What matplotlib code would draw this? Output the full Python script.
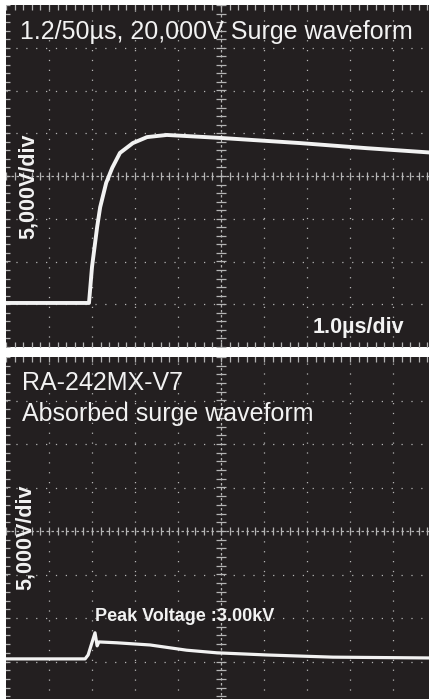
import numpy as np
import matplotlib
matplotlib.use('Agg')
import matplotlib.pyplot as plt

# top trace: 1.2/50us surge, in divisions (x: 1.0us/div, y: 5,000V/div)
surge_t = [0, 1.93, 2.00, 2.12, 2.19, 2.33, 2.47, 2.65, 2.95, 3.28, 3.74, 5.0, 6.84, 8.40, 10.0]
surge_v = [-2.97, -2.97, -2.13, -1.19, -0.73, -0.16, 0.19, 0.54, 0.77, 0.91, 0.96, 0.89, 0.77, 0.65, 0.54]

# bottom trace: absorbed surge
absorbed_t = [0, 1.84, 1.91, 2.07, 2.12, 2.16, 2.58, 3.35, 4.2, 4.9, 6.07, 7.6, 10.0]
absorbed_v = [-2.94, -2.94, -2.85, -2.34, -2.64, -2.55, -2.57, -2.62, -2.74, -2.80, -2.85, -2.90, -2.92]

BG = '#231f20'
GRID = '#b4b4b4'
FG = '#f2f2f2'
FONT = 'Liberation Sans'


def scope_axes(fig, rect):
	ax = fig.add_axes(rect)
	ax.set_facecolor(BG)
	ax.set_xlim(0, 10)
	ax.set_ylim(-4, 4)
	for s in ax.spines.values():
		s.set_visible(False)
	ax.set_xticks([])
	ax.set_yticks([])

	# dotted graticule
	for x in range(1, 10):
		if x != 5:
			ax.axvline(x, color=GRID, lw=0.9, ls=(0, (1.0, 6.9)), zorder=1)
	for y in range(-3, 4):
		if y != 0:
			ax.axhline(y, color=GRID, lw=0.9, ls=(0, (1.0, 6.9)), zorder=1)

	# center axes with minor ticks
	ax.axvline(5, color=GRID, lw=0.9, ls=(0, (2.0, 2.0)), zorder=1)
	ax.axhline(0, color=GRID, lw=0.9, ls=(0, (2.0, 2.0)), zorder=1)
	fine_x = np.arange(0, 10.01, 0.2)
	fine_y = np.arange(-4, 4.01, 0.2)
	ax.plot(fine_x, np.zeros_like(fine_x), ls='none', marker='|', ms=6, mew=0.9, color=GRID, zorder=1)
	ax.plot(np.full_like(fine_y, 5), fine_y, ls='none', marker='_', ms=7, mew=0.9, color=GRID, zorder=1)

	# edge ticks
	ax.plot(fine_x, np.full_like(fine_x, 4), ls='none', marker='|', ms=7, mew=0.9, color=GRID, clip_on=True, zorder=1)
	ax.plot(fine_x, np.full_like(fine_x, -4), ls='none', marker='|', ms=7, mew=0.9, color=GRID, clip_on=True, zorder=1)
	ax.plot(np.zeros_like(fine_y), fine_y, ls='none', marker='_', ms=6, mew=0.9, color=GRID, clip_on=True, zorder=1)
	return ax


def main():
	W, H = 429, 699
	fig = plt.figure(figsize=(W / 100, H / 100), dpi=100)
	fig.patch.set_facecolor('white')

	# top panel: x 6..436 px, y 5..347 px
	top = scope_axes(fig, [6 / W, (H - 347) / H, 430 / W, 342 / H])
	top.plot(surge_t, surge_v, color=FG, lw=2.8, zorder=3, solid_joinstyle='round')
	top.text(0.33, 3.20, '1.2/50µs, 20,000V Surge waveform', color=FG, fontsize=18,
		family=FONT, ha='left', va='baseline', zorder=4)
	top.text(0.51, -0.23, '5,000V/div', color=FG, fontsize=15.5, fontweight='bold',
		family=FONT, rotation=90, ha='center', va='center', zorder=4)
	top.text(7.12, -3.67, '1.0µs/div', color=FG, fontsize=15.5, fontweight='bold',
		family=FONT, ha='left', va='baseline', zorder=4)

	# bottom panel: x 6..436 px, y 357..705 px
	bot = scope_axes(fig, [6 / W, (H - 705) / H, 430 / W, 348 / H])
	bot.plot(absorbed_t, absorbed_v, color=FG, lw=2.3, zorder=3, solid_joinstyle='round')
	bot.text(0.37, 3.24, 'RA-242MX-V7', color=FG, fontsize=18,
		family=FONT, ha='left', va='baseline', zorder=4)
	bot.text(0.37, 2.53, 'Absorbed surge waveform', color=FG, fontsize=18,
		family=FONT, ha='left', va='baseline', zorder=4)
	bot.text(0.44, -0.15, '5,000V/div', color=FG, fontsize=15.5, fontweight='bold',
		family=FONT, rotation=90, ha='center', va='center', zorder=4)
	bot.text(2.07, -2.07, 'Peak Voltage :3.00kV', color=FG, fontsize=13, fontweight='bold',
		family=FONT, ha='left', va='baseline', zorder=4)

	fig.savefig('out.png', dpi=100, facecolor='white')


if __name__ == '__main__':
	main()
